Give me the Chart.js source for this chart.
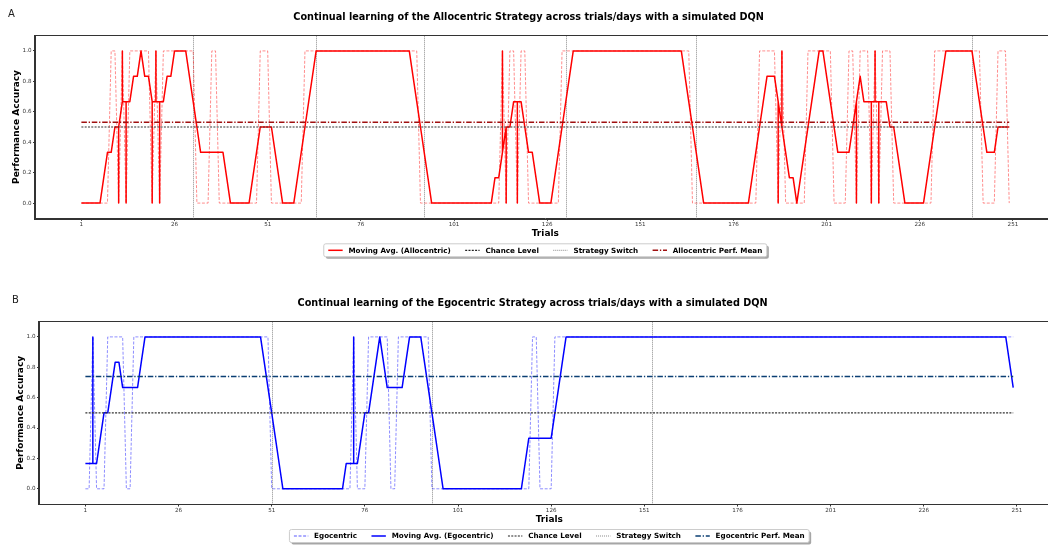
<!DOCTYPE html>
<html><head><meta charset="utf-8">
<script src="https://cdn.jsdelivr.net/npm/chart.js@4.4.1/dist/chart.umd.min.js"></script>
<style>
html,body{margin:0;padding:0;background:#fff;overflow:hidden;width:1048px;height:546px;}
.wrap{position:absolute;left:0;width:1070px;height:273px;}
canvas{display:block;}
</style></head><body>
<div class="wrap" style="top:0"><canvas id="ca" width="1070" height="273"></canvas></div>
<div class="wrap" style="top:273px"><canvas id="cb" width="1070" height="273"></canvas></div>
<script>
// ---------------- DATA ----------------
const xTicks = [1, 26, 51, 76, 101, 126, 151, 176, 201, 226, 251];
const yTicks = [0.0, 0.2, 0.4, 0.6, 0.8, 1.0];

// Allocentric raw outcome per trial (1..250), groups of 10 trials
const allocRawGroups = [
 "0000000011","0101111110","1011111111","1000011000","0000000011",
 "1000000000","1111111111","1111111111","1111111111","1000000000",
 "0000000000","0001011011","0000000001","1111111111","1111111111",
 "1111111111","1111000000","0000000000","0011111010","0000011111",
 "1100001101","1101011100","0000000001","1111111111","1100001110"];
// Allocentric moving average per trial, in sixths (0..6)
const allocMaSixths = [
 "0000001223","3444556554","4445566665","4322222221","0000001233",
 "3321000012","3456666666","6666666666","6666666665","4321000000",
 "0000000000","0112334443","2210000123","4566666666","6666666666",
 "6666666666","6654321000","0000000000","1234555432","1101234566",
 "5432222345","4444444332","1000000123","4566666666","5432223333"];
const allocSpikes = [11,12,13,20,21,22,114,115,118,188,189,209,213,214,215];
const allocSwitches = [31, 64, 93, 131, 166, 240];
const allocMean = 0.532;

// Egocentric raw outcome per trial (1..250)
const egoRawGroups = [
 "0010001111","1001111111","1111111111","1111111111","1111111111",
 "0000000000","0000000000","0010001111","1100111111","1110000000",
 "0000000000","0000000000","1100001111","1111111111","1111111111",
 "1111111111","1111111111","1111111111","1111111111","1111111111",
 "1111111111","1111111111","1111111111","1111111111","1111111111"];
const egoMaSixths = [
 "1111233455","4444456666","6666666666","6666666666","6666666654",
 "3210000000","0000000000","1111233456","5444445666","6543210000",
 "0000000000","0000000012","2222223456","6666666666","6666666666",
 "6666666666","6666666666","6666666666","6666666666","6666666666",
 "6666666666","6666666666","6666666666","6666666666","6666666654"];
const egoSpikes = [3, 73];
const egoSwitches = [51, 94, 153];
const egoMean = 0.74;
const chanceLevel = 0.5;

// ---------------- HELPERS ----------------
const FONT = '"DejaVu Sans", sans-serif';
function decode(groups, div){ return groups.join('').split('').map(c => Number(c) / div); }
function seriesPts(vals){ return vals.map((v,i)=>({x:i+1, y:v})); }
function maPts(ma, raw, spikes){
  const pts=[];
  ma.forEach((v,i)=>{ const t=i+1; pts.push({x:t,y:v});
    if(spikes.includes(t)){ pts.push({x:t,y:raw[i]}); pts.push({x:t,y:v}); } });
  return pts;
}
function hline(v, n){ return [{x:1,y:v},{x:n,y:v}]; }

function makePanel(canvasId, cfg){
  const raw = decode(cfg.rawGroups, 1);
  const ma = decode(cfg.maGroups, 6);
  const n = raw.length;
  const datasets = [
    {label: cfg.rawLabel, data: seriesPts(raw), borderColor: cfg.rawColor, borderWidth: 1, borderDash:[3,1.6], order: 5},
    {label: cfg.maLabel, data: maPts(ma, raw, cfg.spikes), borderColor: cfg.maColor, borderWidth: 1.5, order: 4, borderJoinStyle:'round'},
    {label: 'Chance Level', data: hline(chanceLevel, n), borderColor: '#333', borderWidth: 1.2, borderDash:[2,1.3], order: 3},
    {label: cfg.meanLabel, data: hline(cfg.mean, n), borderColor: cfg.meanColor, borderWidth: 1.5, borderDash:[5.5,1.8,1.3,1.8], order: 1}
  ];
  const L = cfg.box;
  const panelPlugin = {
    id: 'panel'+canvasId,
    beforeDatasetsDraw(chart){
      const {ctx, chartArea:a, scales:{x}} = chart;
      ctx.save();
      ctx.strokeStyle = '#8a8a8a'; ctx.lineWidth = 1; ctx.setLineDash([1,1]);
      cfg.switches.forEach(s=>{ const px = Math.round(x.getPixelForValue(s))+0.5;
        ctx.beginPath(); ctx.moveTo(px, a.top); ctx.lineTo(px, a.bottom); ctx.stroke(); });
      ctx.restore();
    },
    afterDraw(chart){
      const {ctx, chartArea:a} = chart;
      ctx.save();
      // frame
      ctx.strokeStyle = '#333'; ctx.lineWidth = 1; ctx.setLineDash([]);
      ctx.strokeRect(Math.round(a.left)-0.5, Math.round(a.top)-0.5, Math.round(a.right-a.left)+1, Math.round(a.bottom-a.top)+1);
      const cx = (a.left + a.right)/2;
      // panel letter
      ctx.fillStyle = '#222'; ctx.font = '10px '+FONT; ctx.textAlign='left'; ctx.textBaseline='alphabetic';
      ctx.fillText(cfg.letter, a.left - 27, a.top - 18.8);
      // title
      ctx.fillStyle = '#000'; ctx.font = 'bold 9.7px '+FONT; ctx.textAlign='center';
      ctx.fillText(cfg.title, cx - 16.7, a.top - 15.5);
      // x title
      ctx.font = 'bold 9px '+FONT;
      ctx.fillText('Trials', cx, a.bottom + 18);
      // y title
      ctx.save(); ctx.translate(a.left - 16, (a.top+a.bottom)/2); ctx.rotate(-Math.PI/2);
      ctx.textBaseline='alphabetic'; ctx.fillText('Performance Accuracy', 0, 0); ctx.restore();
      // legend
      const fs = 7.2, handle = 14.4, pad = 5.8, colsp = 14.4, bpad = 4.5;
      ctx.font = 'bold '+fs+'px '+FONT;
      const items = cfg.legend;
      let total = 0;
      items.forEach((it,i)=>{ it.w = ctx.measureText(it.label).width; total += handle+pad+it.w+(i?colsp:0); });
      const bw = total + 2*bpad, bh = 13;
      const cy = a.bottom + 32;
      const x0 = cx - bw/2, y0 = cy - bh/2;
      function rr(x,y,w,h,r){ ctx.beginPath(); ctx.moveTo(x+r,y); ctx.lineTo(x+w-r,y); ctx.quadraticCurveTo(x+w,y,x+w,y+r);
        ctx.lineTo(x+w,y+h-r); ctx.quadraticCurveTo(x+w,y+h,x+w-r,y+h); ctx.lineTo(x+r,y+h); ctx.quadraticCurveTo(x,y+h,x,y+h-r);
        ctx.lineTo(x,y+r); ctx.quadraticCurveTo(x,y,x+r,y); ctx.closePath(); }
      ctx.fillStyle = 'rgba(0,0,0,0.35)'; rr(x0+2, y0+2, bw, bh, 2); ctx.fill();
      ctx.fillStyle = '#fff'; rr(x0, y0, bw, bh, 2); ctx.fill();
      ctx.strokeStyle = '#cccccc'; ctx.lineWidth = 1; ctx.stroke();
      let xx = x0 + bpad;
      items.forEach((it,i)=>{
        if(i) xx += colsp;
        ctx.save(); ctx.strokeStyle = it.color; ctx.lineWidth = it.width; ctx.setLineDash(it.dash||[]);
        ctx.beginPath(); ctx.moveTo(xx, cy); ctx.lineTo(xx+handle, cy); ctx.stroke(); ctx.restore();
        xx += handle + pad;
        ctx.fillStyle = '#000'; ctx.textAlign='left'; ctx.textBaseline='middle';
        ctx.fillText(it.label, xx, cy+0.5);
        xx += it.w;
      });
      ctx.restore();
    }
  };
  return new Chart(document.getElementById(canvasId), {
    type: 'line',
    data: { datasets },
    options: {
      responsive: false, animation: false, devicePixelRatio: 1, events: [],
      layout: { padding: { top: L.top, left: 0, right: L.right, bottom: 0 } },
      elements: { point: { radius: 0 }, line: { tension: 0, fill: false } },
      plugins: { legend: { display: false }, tooltip: { enabled: false } },
      scales: {
        x: { type: 'linear', min: -11.45, max: 262.45,
             afterBuildTicks: s => { s.ticks = xTicks.map(v=>({value:v})); },
             afterFit: s => { s.height = L.xh; },
             ticks: { autoSkip:false, maxRotation:0, padding: 0.5, color:'#333', font:{family:FONT, size:5.6}, callback: v=>String(v) },
             grid: { drawOnChartArea:false, drawTicks:true, tickLength:2.5, tickColor:'#333' },
             border: { display:true, color:'#333' } },
        y: { type: 'linear', min: -0.1, max: 1.1,
             afterBuildTicks: s => { s.ticks = yTicks.map(v=>({value:v})); },
             afterFit: s => { s.width = L.yw; },
             ticks: { padding: 1.5, color:'#333', font:{family:FONT, size:5.6}, callback: v=>Number(v).toFixed(1) },
             grid: { drawOnChartArea:false, drawTicks:true, tickLength:2, tickColor:'#333' },
             border: { display:true, color:'#333' } }
      }
    },
    plugins: [panelPlugin]
  });
}

const switchLegend = {label:'Strategy Switch', color:'#8a8a8a', width:1, dash:[1,1]};
const chanceLegend = {label:'Chance Level', color:'#222', width:1.2, dash:[2,1.3]};

makePanel('ca', {
  rawGroups: allocRawGroups, maGroups: allocMaSixths, spikes: allocSpikes, switches: allocSwitches, mean: allocMean,
  rawLabel: 'Allocentric', maLabel: 'Moving Avg. (Allocentric)', meanLabel: 'Allocentric Perf. Mean',
  rawColor: 'rgba(255,0,0,0.45)', maColor: '#ff0000', meanColor: '#a01010',
  letter: 'A', title: 'Continual learning of the Allocentric Strategy across trials/days with a simulated DQN',
  box: { top: 35.7, right: 14.4, xh: 54.7, yw: 35 },
  legend: [
    {label:'Moving Avg. (Allocentric)', color:'#ff0000', width:1.5},
    chanceLegend, switchLegend,
    {label:'Allocentric Perf. Mean', color:'#a01010', width:1.5, dash:[5.5,1.8,1.3,1.8]}
  ]
});
makePanel('cb', {
  rawGroups: egoRawGroups, maGroups: egoMaSixths, spikes: egoSpikes, switches: egoSwitches, mean: egoMean,
  rawLabel: 'Egocentric', maLabel: 'Moving Avg. (Egocentric)', meanLabel: 'Egocentric Perf. Mean',
  rawColor: 'rgba(0,0,255,0.45)', maColor: '#0000ff', meanColor: '#0b3f73',
  letter: 'B', title: 'Continual learning of the Egocentric Strategy across trials/days with a simulated DQN',
  box: { top: 48.7, right: 10.4, xh: 42, yw: 39 },
  legend: [
    {label:'Egocentric', color:'rgba(0,0,255,0.65)', width:1, dash:[3,1.6]},
    {label:'Moving Avg. (Egocentric)', color:'#0000ff', width:1.5},
    chanceLegend, switchLegend,
    {label:'Egocentric Perf. Mean', color:'#0b3f73', width:1.5, dash:[5.5,1.8,1.3,1.8]}
  ]
});
</script>
</body></html>
